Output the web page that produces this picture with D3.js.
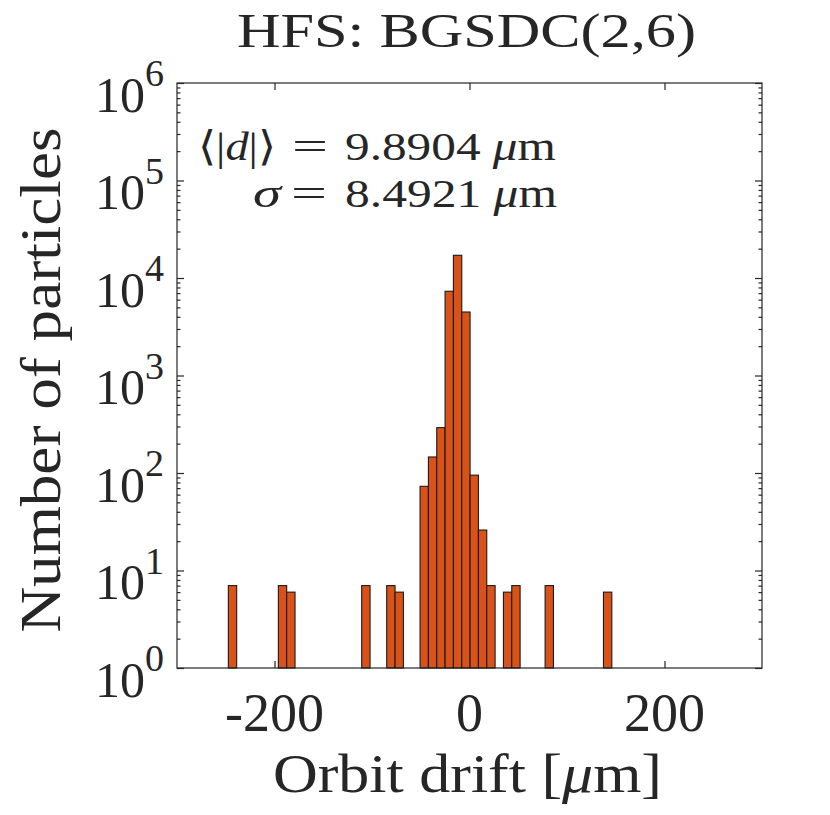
<!DOCTYPE html>
<html>
<head>
<meta charset="utf-8">
<script src="https://cdn.jsdelivr.net/npm/d3@7"></script>
<style>
  html, body { margin: 0; padding: 0; background: #fff; }
  svg { display: block; }
  text { font-family: "Liberation Serif", "Times New Roman", serif; fill: #262626; }
</style>
</head>
<body>
<div id="chart"></div>
<script>
// ---- data ----
const binWidth = 8.55;                 // µm
const binLeft = [-247.35, -196.05, -187.5, -110.55, -84.9, -76.35,
                 -50.7, -42.15, -33.6, -25.05, -16.5, -7.95,
                 0.6, 9.15, 17.7, 34.8, 43.35, 77.55, 137.4];
const counts  = [7, 7, 6, 7, 7, 6,
                 73, 146, 292, 7310, 17100, 4480,
                 95, 26, 7, 6, 7, 7, 6];
const xDomain = [-300, 300];
const xTicks = [-200, 0, 200];
const xTickLabels = ["-200", "0", "200"];
const yExponents = [0, 1, 2, 3, 4, 5, 6];
const titleText = "HFS: BGSDC(2,6)";
const xLabelText = "Orbit drift [";
const yLabelText = "Number of particles";
const meanValue = "9.8904";
const sigmaValue = "8.4921";

// ---- layout ----
const W = 830, H = 815;
const L = 177, R = 762, T = 83, B = 668;
const axisColor = "#262626";
const barColor = "#D95319";

const svg = d3.select("#chart").append("svg")
  .attr("width", W).attr("height", H).attr("viewBox", `0 0 ${W} ${H}`);

const x = d3.scaleLinear().domain(xDomain).range([L, R]);
const y = d3.scaleLog().domain([1, 1e6]).range([B, T]);

// ticks (drawn under the bars, like MATLAB's default layer)
const majors = yExponents.map(e => Math.pow(10, e));
const minors = [];
for (let e = 0; e < 6; e++) for (let m = 2; m <= 9; m++) minors.push(m * Math.pow(10, e));

function styleAxis(g) {
  g.select(".domain").remove();
  g.selectAll(".tick line").attr("stroke", axisColor).attr("stroke-width", 1.2);
  g.selectAll(".tick text").remove();
}
svg.append("g").attr("transform", `translate(0,${B})`)
  .call(d3.axisBottom(x).tickValues(xTicks).tickSize(-7).tickFormat(""))
  .call(styleAxis);
svg.append("g").attr("transform", `translate(0,${T})`)
  .call(d3.axisTop(x).tickValues(xTicks).tickSize(-7).tickFormat(""))
  .call(styleAxis);
svg.append("g").attr("transform", `translate(${L},0)`)
  .call(d3.axisLeft(y).tickValues(majors).tickSize(-7).tickFormat(""))
  .call(styleAxis);
svg.append("g").attr("transform", `translate(${L},0)`)
  .call(d3.axisLeft(y).tickValues(minors).tickSize(-3.5).tickFormat(""))
  .call(styleAxis);
svg.append("g").attr("transform", `translate(${R},0)`)
  .call(d3.axisRight(y).tickValues(majors).tickSize(-7).tickFormat(""))
  .call(styleAxis);
svg.append("g").attr("transform", `translate(${R},0)`)
  .call(d3.axisRight(y).tickValues(minors).tickSize(-3.5).tickFormat(""))
  .call(styleAxis);

// bars
const bins = binLeft.map((b, i) => ({ x0: b, x1: b + binWidth, n: counts[i] }));
svg.append("g").selectAll("rect").data(bins).join("rect")
  .attr("x", d => x(d.x0))
  .attr("width", d => x(d.x1) - x(d.x0))
  .attr("y", d => y(d.n))
  .attr("height", d => y(1) - y(d.n))
  .attr("fill", barColor)
  .attr("stroke", "#1a1a1a")
  .attr("stroke-width", 1.1);

// box
svg.append("rect")
  .attr("x", L).attr("y", T).attr("width", R - L).attr("height", B - T)
  .attr("fill", "none").attr("stroke", axisColor).attr("stroke-width", 1.2);

// x tick labels
svg.append("g").selectAll("text").data(xTicks).join("text")
  .attr("x", d => x(d))
  .attr("y", B + 63)
  .attr("text-anchor", "middle")
  .attr("font-size", 54)
  .text((d, i) => xTickLabels[i]);

// y tick labels 10^e
const yl = svg.append("g").selectAll("text").data(yExponents).join("text")
  .attr("x", 164)
  .attr("y", e => y(Math.pow(10, e)) + 28.5)
  .attr("text-anchor", "end")
  .attr("font-size", 50);
yl.append("tspan").text("10");
yl.append("tspan").attr("dy", -25.5).attr("font-size", 38).text(e => String(e));

// title
svg.append("text")
  .attr("x", 466.5).attr("y", 46.7)
  .attr("text-anchor", "middle")
  .attr("font-size", 49)
  .attr("textLength", 459).attr("lengthAdjust", "spacingAndGlyphs")
  .text(titleText);

// x label
const xl = svg.append("text")
  .attr("x", 467.5).attr("y", 792)
  .attr("text-anchor", "middle")
  .attr("font-size", 55)
  .attr("textLength", 389).attr("lengthAdjust", "spacingAndGlyphs");
xl.append("tspan").text(xLabelText);
xl.append("tspan").attr("font-style", "italic").text("\u03BC");
xl.append("tspan").text("m]");

// y label
svg.append("text")
  .attr("transform", "translate(60,380) rotate(-90)")
  .attr("text-anchor", "middle")
  .attr("font-size", 56)
  .attr("textLength", 505).attr("lengthAdjust", "spacingAndGlyphs")
  .text(yLabelText);

// annotation
const ann = svg.append("g").attr("font-size", 41);
const base1 = 160, base2 = 207;
const a1 = ann.append("text").attr("x", 276).attr("y", base1).attr("text-anchor", "end")
  .attr("textLength", 78).attr("lengthAdjust", "spacingAndGlyphs");
a1.append("tspan").attr("font-family", "DejaVu Sans").attr("font-weight", 300).text("\u27E8");
a1.append("tspan").text("|");
a1.append("tspan").attr("font-style", "italic").text("d");
a1.append("tspan").text("|");
a1.append("tspan").attr("font-family", "DejaVu Sans").text("\u27E9");
ann.append("text").attr("x", 292).attr("y", base1)
  .attr("textLength", 36).attr("lengthAdjust", "spacingAndGlyphs").text("=");
const r1 = ann.append("text").attr("x", 345).attr("y", base1)
  .attr("textLength", 211).attr("lengthAdjust", "spacingAndGlyphs");
r1.append("tspan").text(meanValue + " ");
r1.append("tspan").attr("font-style", "italic").text("\u03BC");
r1.append("tspan").text("m");

const a2 = ann.append("text").attr("x", 281).attr("y", base2).attr("text-anchor", "end")
  .attr("textLength", 28).attr("lengthAdjust", "spacingAndGlyphs");
a2.append("tspan").attr("font-style", "italic").text("\u03C3");
ann.append("text").attr("x", 291).attr("y", base2)
  .attr("textLength", 36).attr("lengthAdjust", "spacingAndGlyphs").text("=");
const r2 = ann.append("text").attr("x", 345).attr("y", base2)
  .attr("textLength", 212).attr("lengthAdjust", "spacingAndGlyphs");
r2.append("tspan").text(sigmaValue + " ");
r2.append("tspan").attr("font-style", "italic").text("\u03BC");
r2.append("tspan").text("m");
</script>
</body>
</html>
